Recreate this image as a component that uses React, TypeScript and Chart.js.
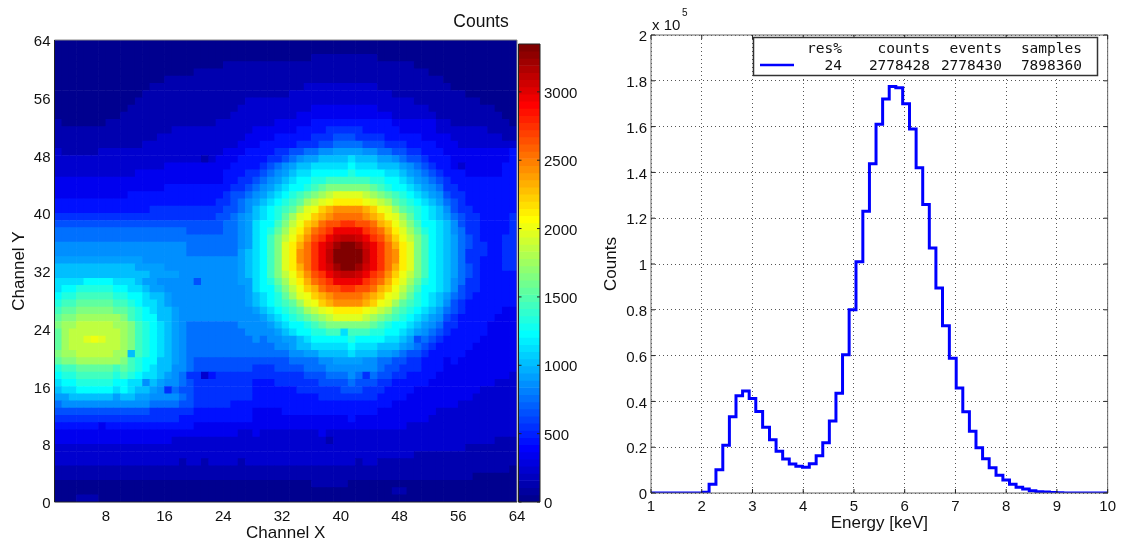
import React, { useEffect, useRef } from "react";
import { Chart, registerables } from "chart.js";

Chart.register(...registerables);

const sans = "'Liberation Sans', Arial, sans-serif";
const mono = "'DejaVu Sans Mono', monospace";

// Each character is a count level in base 36 (value = level * 100 + 40). First row is channel Y = 63.
const heatRows: string[] = [
  "000000000 000000000 000000000 000000000 000000000 000000000 000000000",
  "000000000 000000000 000000000 000000000 000000000 000000000 000000000",
  "000000000 000000000 000000000 000000001 111111110 000000000 000000000",
  "000000000 000000000 000001111 111111111 111111111 111100000 000000000",
  "000000000 000000000 011111111 111111111 111111111 111111000 000000000",
  "000000000 000000111 111111111 111111111 111111111 111111110 000000000",
  "000000000 000011111 111111111 111111122 222222221 111111111 000000000",
  "000000000 000111111 111111111 111112222 222222222 211111111 110000000",
  "000000000 001111111 111111112 222222222 222222222 222211111 111100000",
  "000000000 011111111 111111122 222222223 333333332 222222111 111111000",
  "000000000 111111111 111111222 222222333 333333333 322222211 111111100",
  "100000011 111111111 111122222 222333334 444444444 433333322 111111110",
  "111111111 111111122 222222222 333333444 455555444 443333322 222221111",
  "111111111 111112222 222222223 333444445 556665555 444443333 222222211",
  "111111111 111222222 222222233 344444555 667777666 555444433 322222222",
  "211111222 222222222 222223334 444556677 889999887 766554443 333333334",
  "222222222 222222222 221233344 445567899 aaaabaaa9 987665444 333333334",
  "222222222 222222333 333333444 456789aab bbbbcbbba aa9876544 323333344",
  "222222222 223333333 333334445 56789abbc ccccdcccc bba987654 443333344",
  "333333333 333333333 333334455 6789abccd deeeeeedd ccba98765 444444444",
  "333333333 333333444 444444556 789abccde fggggggfe dccba9875 544444444",
  "333333333 344444444 444445667 89abcdefg hijjjjihg fedcba986 554444444",
  "444444444 444444444 444455678 9abcdefhi jkllllkji hfedcba97 654444444",
  "444444444 444455555 555556678 abcdefhjk mnoooonmk jhfedcba8 655444444",
  "555555555 555555555 555566789 abcdfhjkm nopppponm kjhfdcba9 765544445",
  "666666666 666666666 666667789 bccegikmn pqqrrqqpn mkigeccba 865544445",
  "777777777 777777777 666667789 bcdfhjlnp qrttttrqp nljhfdcba 875544445",
  "777777777 777777777 777777789 bcegikmoq rtuvvutrq omkigecba 976544455",
  "888888888 888888888 777777789 bcegjlnpr tuwxxwutr pnljgecba 976554455",
  "888888888 888888888 77777779a bcegjlopr tvxxxxvtr poljgecba 975554455",
  "999999999 999888888 88888889a bcegjlopr tvxxxxvtr poljgecba 975544455",
  "aaaaaaaaa aa9999888 88888889a bcegjlnpr tuwxxwutr pnljgecba 976544455",
  "aaaaaaaaa aaaa99998 88888889a bcegikmoq rtuvvutrq omkigecba 976544444",
  "bbbbccccb bba998888 868888899 bcdfhjlnp qrttttrqp nljhfdcba 875544444",
  "bccdddddc cbba99888 888888889 bccegikmn pqqrrqqpn mkigeccba 865544444",
  "cddeeeeed dccbaa988 888888889 abcdfhjkm nopppponm kjhfdcba9 765444444",
  "deefffffe edcbba988 888888889 abcdefhjk mnoooonmk jhfedcba8 654444444",
  "effgggggf fedcbaa98 888888888 9abcdefhi jkllllkji hfedcba97 654444433",
  "fgghhhhhh gedccaa98 888888888 89abcdefg hijjjjihg fedcba986 544444333",
  "ghhiiiiih hgedcba98 777777788 889abccde fggggggfe dccba9875 544443333",
  "fhiiiiiii hgedcba98 777777778 8889abccd deebeeedd ccba98765 444443333",
  "fhiijkjii hgedcba98 777777777 878899abc ccccdcccc bba967654 444433333",
  "fhiiiiiii hgedcba98 777777777 777889aab bbbbcbbba aa9876544 444333333",
  "ghhiiiiih haedcba98 777777777 777778899 aaaabaaa9 987665444 443333333",
  "fgghhhhhh gedccaa98 766666666 666667777 889999887 766554443 433333333",
  "deefffffe fedcbaa88 766666666 555666677 788888887 665554443 333333333",
  "cddeeeeed edcbba987 552455555 555555566 677787576 655444433 333333332",
  "bccdddddc cbb8a9887 655555555 444555555 666676665 544444333 333333222",
  "abbcccccb cbaa98576 655555555 444444555 555666555 444433333 333322222",
  "99aaaaaa9 aa9988887 655555555 444444444 555555554 444333333 333222222",
  "788888888 888877776 655555444 444444444 444444444 433333333 322222222",
  "666666666 666655555 544444444 333344444 444444443 333333322 222222222",
  "555555555 555555554 444444444 333333333 333343333 333333222 222222222",
  "444444344 444444444 433333333 333333333 333333333 333222222 222222222",
  "333333333 333333333 333333322 322222222 322222222 222222222 222222222",
  "333333333 333333322 222222222 222222222 212222222 222222222 222222111",
  "222222222 222222222 222222222 222222222 222222222 222222222 221111111",
  "222222222 222222222 222222222 222222222 222222222 222211111 111111111",
  "222222222 222222221 221222212 222222222 222221221 111111111 111111111",
  "111111111 111111111 111111111 111111111 111111111 111111111 111111110",
  "111111111 111111111 111111111 111111111 111111111 111111111 111000000",
  "000000000 000000000 000000000 000000001 111100000 000000000 000000000",
  "000000000 000000000 000000000 000000000 000000000 011000000 000000000",
  "000111000 000000000 000000000 000000000 000000000 000000000 000000000",
];

const heatTicks = [8, 16, 24, 32, 40, 48, 56, 64];
const heatYTicks = [0, 8, 16, 24, 32, 40, 48, 56, 64];
const colorbarTicks = [0, 500, 1000, 1500, 2000, 2500, 3000];
const colorMax = 3350;

const energy = [
  1.0, 1.16, 1.29, 1.42, 1.56, 1.69, 1.82, 1.95, 2.08, 2.21, 2.35, 2.48, 2.61, 2.74, 2.87, 3.0, 3.13,
  3.27, 3.4, 3.53, 3.66, 3.79, 3.92, 4.05, 4.19, 4.32, 4.45, 4.58, 4.71, 4.84, 4.97, 5.11, 5.24, 5.37,
  5.5, 5.63, 5.76, 5.89, 6.03, 6.16, 6.29, 6.42, 6.55, 6.68, 6.81, 6.95, 7.08, 7.21, 7.34, 7.47, 7.6,
  7.73, 7.87, 8.0, 8.13, 8.26, 8.39, 8.52, 8.65, 8.79, 8.92, 9.05, 9.18, 9.31, 9.44, 9.57, 9.71, 9.84, 10,
];
const counts = [
  0, 0, 0, 0, 0, 0, 0, 0, 300, 3800, 10200, 20800, 33300, 42500, 44500, 41300, 35600, 28700, 23200, 18200,
  14900, 12700, 11700, 11200, 12800, 16300, 21900, 31400, 43600, 60400, 80000, 101000, 123000, 143800,
  161000, 172000, 177500, 177000, 170000, 159000, 142000, 126000, 107000, 89500, 73000, 58800, 45800,
  35500, 27000, 19800, 15000, 11000, 7700, 5700, 3800, 2500, 1700, 1000, 600, 400, 200, 100, 0, 0, 0, 0, 0, 0, 0,
];
const energyTicks = [1, 2, 3, 4, 5, 6, 7, 8, 9, 10];
const countTicks = [0, 20000, 40000, 60000, 80000, 100000, 120000, 140000, 160000, 180000, 200000];
const legendHeader = ["res%", "counts", "events", "samples"];
const legendRow = ["24", "2778428", "2778430", "7898360"];

const clamp = (v: number) => Math.max(0, Math.min(1, v));
function jetIndex(k: number) {
  const t = (k + 1) / 64;
  const c = (o: number) => Math.round(255 * clamp(1.5 - Math.abs(4 * t - o)));
  return `rgb(${c(3)},${c(2)},${c(1)})`;
}
const jetValue = (v: number) => jetIndex(Math.min(63, Math.floor((v / colorMax) * 64)));

function setTicks(values: number[]) {
  return (axis: any) => {
    axis.ticks = values.map((value) => ({ value }));
  };
}

const framePlugin = (opts: { dark?: string; light?: string; tick?: number }) => ({
  id: "frame",
  afterDraw(chart: any) {
    const { ctx, chartArea: a, scales } = chart;
    const { dark = "#222", light = "#888", tick = 0 } = opts;
    ctx.save();
    ctx.lineWidth = 1;
    ctx.strokeStyle = light;
    ctx.beginPath();
    ctx.moveTo(a.left, a.top);
    ctx.lineTo(a.right, a.top);
    ctx.lineTo(a.right, a.bottom);
    ctx.stroke();
    ctx.strokeStyle = dark;
    ctx.beginPath();
    ctx.moveTo(a.left, a.top);
    ctx.lineTo(a.left, a.bottom);
    ctx.lineTo(a.right, a.bottom);
    ctx.stroke();
    if (tick) {
      ctx.strokeStyle = "#222";
      ctx.beginPath();
      for (const id of Object.keys(scales)) {
        const s = scales[id];
        if (!s.options.display) continue;
        for (const t of s.ticks) {
          const p = s.getPixelForValue(t.value);
          if (s.isHorizontal()) {
            ctx.moveTo(p, a.bottom);
            ctx.lineTo(p, a.bottom - tick);
            ctx.moveTo(p, a.top);
            ctx.lineTo(p, a.top + tick);
          } else {
            ctx.moveTo(a.left, p);
            ctx.lineTo(a.left + tick, p);
            ctx.moveTo(a.right, p);
            ctx.lineTo(a.right - tick, p);
          }
        }
      }
      ctx.stroke();
    }
    ctx.restore();
  },
});

const countsLabelPlugin = {
  id: "countsLabel",
  afterDraw(chart: any) {
    const { ctx } = chart;
    ctx.save();
    ctx.fillStyle = "#111";
    ctx.font = `17.5px ${sans}`;
    ctx.textAlign = "center";
    ctx.textBaseline = "middle";
    ctx.fillText("Counts", 481, 22);
    ctx.restore();
  },
};

const spectrumLegendPlugin = {
  id: "spectrumLegend",
  afterDraw(chart: any) {
    const { ctx } = chart;
    const ox = -600; // canvas offset from the page
    ctx.save();
    ctx.fillStyle = "#111";
    ctx.textBaseline = "middle";
    ctx.textAlign = "left";
    ctx.font = `15px ${sans}`;
    ctx.fillText("x 10", 652 + ox, 26);
    ctx.font = `10px ${sans}`;
    ctx.fillText("5", 682 + ox, 13);
    ctx.fillStyle = "#fff";
    ctx.strokeStyle = "#333";
    ctx.lineWidth = 1.5;
    ctx.fillRect(753.5 + ox, 37.5, 344, 38);
    ctx.strokeRect(753.5 + ox, 37.5, 344, 38);
    ctx.strokeStyle = "#0000ff";
    ctx.lineWidth = 2.5;
    ctx.beginPath();
    ctx.moveTo(760 + ox, 65);
    ctx.lineTo(794 + ox, 65);
    ctx.stroke();
    ctx.fillStyle = "#111";
    ctx.font = `14.5px ${mono}`;
    ctx.textAlign = "right";
    const ends = [842, 930, 1002, 1082];
    legendHeader.forEach((t, i) => ctx.fillText(t, ends[i] + ox, 49));
    legendRow.forEach((t, i) => ctx.fillText(t, ends[i] + ox, 66));
    ctx.restore();
  },
};

export default function App() {
  const heatRef = useRef<HTMLCanvasElement>(null);
  const barRef = useRef<HTMLCanvasElement>(null);
  const specRef = useRef<HTMLCanvasElement>(null);

  useEffect(() => {
    const tickFont = { family: sans, size: 15 };
    const titleFont = { family: sans, size: 17 };
    const base = {
      responsive: false,
      maintainAspectRatio: false,
      animation: false as const,
      devicePixelRatio: 1,
    };

    const cells: any[] = [];
    const cellColors: string[] = [];
    heatRows.forEach((row, r) => {
      const y = heatRows.length - 1 - r;
      row
        .replace(/ /g, "")
        .split("")
        .forEach((ch, i) => {
          const v = parseInt(ch, 36) * 100 + 40;
          cells.push({ x: i + 1.5, y: [y, y + 1] });
          cellColors.push(jetValue(v));
        });
    });

    const heat = new Chart(heatRef.current!, {
      type: "bar",
      data: {
        datasets: [
          { data: cells, backgroundColor: cellColors, barPercentage: 1, categoryPercentage: 1, grouped: false } as any,
        ],
      },
      options: {
        ...base,
        layout: { padding: { left: 0, top: 40, right: 23, bottom: 0 } },
        plugins: { legend: { display: false }, tooltip: { enabled: false } },
        scales: {
          x: {
            type: "linear",
            min: 1,
            max: 64,
            offset: false,
            afterBuildTicks: setTicks(heatTicks),
            afterFit: (s: any) => {
              s.height = 40;
            },
            grid: { display: false, drawTicks: false },
            border: { display: false },
            ticks: { font: tickFont, color: "#111", padding: 6, maxRotation: 0, autoSkip: false },
            title: { display: true, text: "Channel X", font: titleFont, color: "#111", padding: { top: 0, bottom: -2 } },
          },
          y: {
            type: "linear",
            min: 0,
            max: 64,
            afterBuildTicks: setTicks(heatYTicks),
            afterFit: (s: any) => {
              s.width = 54.5;
            },
            grid: { display: false, drawTicks: false },
            border: { display: false },
            ticks: { font: tickFont, color: "#111", padding: 4, autoSkip: false, labelOffset: 2 },
            title: { display: true, text: "Channel Y", font: titleFont, color: "#111", padding: { top: 9, bottom: 0 } },
          },
        },
      } as any,
      plugins: [framePlugin({}), countsLabelPlugin],
    });

    const barBands = Array.from({ length: 64 }, (_, k) => k);
    const colorbar = new Chart(barRef.current!, {
      type: "bar",
      data: {
        labels: ["c"],
        datasets: [
          {
            data: barBands.map((k) => ({ x: "c", y: [(k / 64) * colorMax, ((k + 1) / 64) * colorMax] })),
            backgroundColor: barBands.map(jetIndex),
            barPercentage: 1,
            categoryPercentage: 1,
            grouped: false,
          } as any,
        ],
      },
      options: {
        ...base,
        layout: { padding: { left: 0.5, top: 44, right: 0, bottom: 40 } },
        plugins: { legend: { display: false }, tooltip: { enabled: false } },
        scales: {
          x: { display: false, grid: { display: false } },
          y: {
            position: "right",
            type: "linear",
            min: 0,
            max: colorMax,
            afterBuildTicks: setTicks(colorbarTicks),
            afterFit: (s: any) => {
              s.width = 60;
            },
            grid: { display: false, drawTicks: false },
            border: { display: false },
            ticks: {
              font: tickFont,
              color: "#111",
              padding: 4,
              autoSkip: false,
              labelOffset: 2,
              callback: (v: any) => String(v),
            },
          },
        },
      } as any,
      plugins: [framePlugin({ dark: "#222", light: "#222", tick: 3 })],
    });

    const spec = new Chart(specRef.current!, {
      type: "line",
      data: {
        datasets: [
          {
            data: energy.map((x, i) => ({ x, y: counts[i] })),
            borderColor: "#0000ff",
            borderWidth: 3,
            pointRadius: 0,
            stepped: "middle",
            fill: false,
          } as any,
        ],
      },
      options: {
        ...base,
        layout: { padding: { left: 0, top: 35, right: 13, bottom: 0 } },
        plugins: { legend: { display: false }, tooltip: { enabled: false } },
        scales: {
          x: {
            type: "linear",
            min: 1,
            max: 10,
            afterBuildTicks: setTicks(energyTicks),
            afterFit: (s: any) => {
              s.height = 49;
            },
            grid: { color: "#555", borderDash: [1, 3], drawTicks: false, lineWidth: 1 },
            border: { display: false, dash: [1, 3] },
            ticks: { font: tickFont, color: "#111", padding: 5, maxRotation: 0, autoSkip: false },
            title: { display: true, text: "Energy [keV]", font: titleFont, color: "#111", padding: { top: 0, bottom: 8 } },
          },
          y: {
            type: "linear",
            min: 0,
            max: 200000,
            afterBuildTicks: setTicks(countTicks),
            afterFit: (s: any) => {
              s.width = 51;
            },
            grid: { color: "#555", borderDash: [1, 3], drawTicks: false, lineWidth: 1 },
            border: { display: false, dash: [1, 3] },
            ticks: {
              font: tickFont,
              color: "#111",
              padding: 4,
              autoSkip: false,
              labelOffset: 2,
              callback: (v: any) => String(Math.round((Number(v) / 1e5) * 10) / 10),
            },
            title: { display: true, text: "Counts", font: titleFont, color: "#111", padding: { top: 1, bottom: 0 } },
          },
        },
      } as any,
      plugins: [framePlugin({ dark: "#666", light: "#666", tick: 4 }), spectrumLegendPlugin],
    });

    return () => {
      heat.destroy();
      colorbar.destroy();
      spec.destroy();
    };
  }, []);

  const abs = (left: number): React.CSSProperties => ({ position: "absolute", left, top: 0, display: "block" });
  return (
    <div style={{ position: "absolute", left: 0, top: 0, width: 1121, height: 542, overflow: "hidden", background: "#fff" }}>
      <canvas ref={heatRef} width={540} height={542} style={abs(0)} />
      <canvas ref={barRef} width={82} height={542} style={abs(518)} />
      <canvas ref={specRef} width={521} height={542} style={abs(600)} />
    </div>
  );
}
